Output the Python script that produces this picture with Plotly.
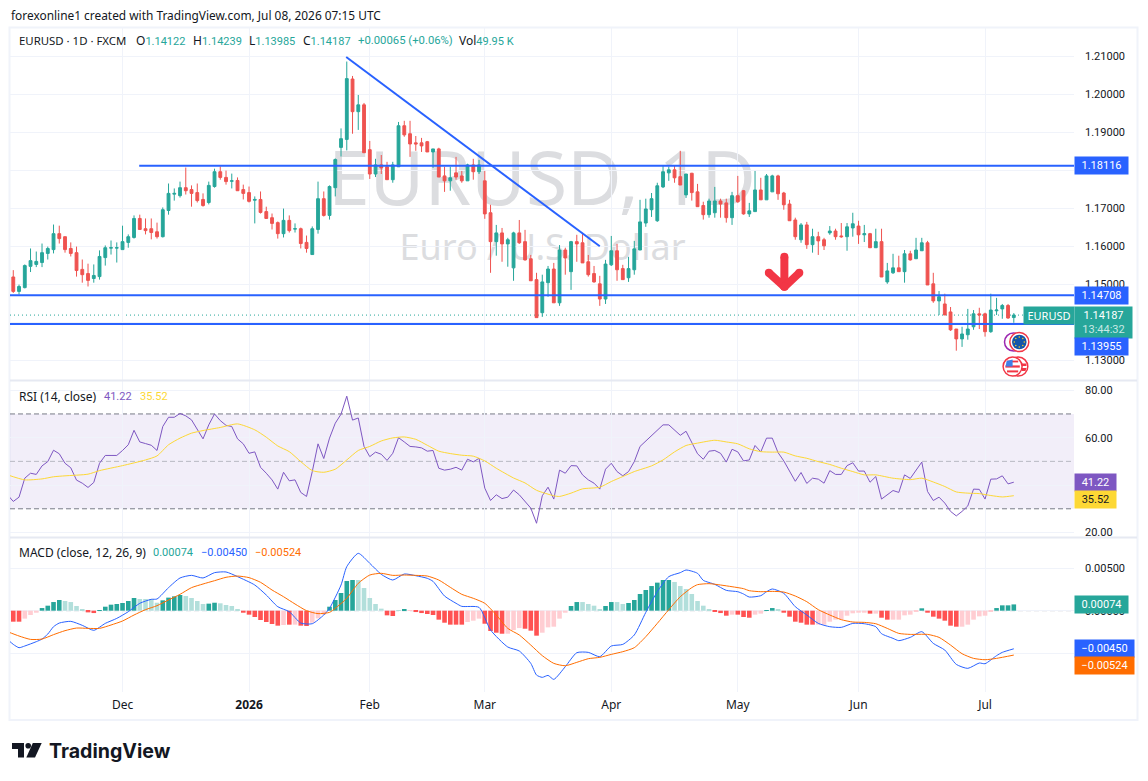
import plotly.graph_objects as go

# Daily EURUSD bars, one entry per trading day, first row is the leftmost bar
opens = [
 1.1519,1.1481,1.1491,1.1547,1.1552,1.1557,1.1581,1.1591,1.1633,1.1625,
 1.1594,1.1583,1.1539,1.1528,1.1515,1.1520,1.1570,1.1595,1.1595,1.1591,
 1.1610,1.1623,1.1673,1.1646,1.1646,1.1638,1.1625,1.1694,1.1737,1.1733,
 1.1754,1.1749,1.1741,1.1723,1.1715,1.1757,1.1796,1.1781,1.1771,1.1773,
 1.1749,1.1741,1.1721,1.1723,1.1691,1.1675,1.1662,1.1633,1.1668,1.1645,
 1.1646,1.1610,1.1578,1.1644,1.1725,1.1681,1.1754,1.1860,1.1881,1.2040,
 1.1954,1.1972,1.1854,1.1790,1.1814,1.1809,1.1775,1.1809,1.1917,1.1896,
 1.1872,1.1872,1.1875,1.1848,1.1856,1.1785,1.1772,1.1793,1.1785,1.1772,
 1.1814,1.1796,1.1772,1.1688,1.1612,1.1635,1.1606,1.1543,1.1635,1.1612,
 1.1567,1.1512,1.1425,1.1504,1.1540,1.1451,1.1590,1.1533,1.1612,1.1609,
 1.1559,1.1528,1.1501,1.1461,1.1551,1.1588,1.1541,1.1517,1.1538,1.1590,
 1.1661,1.1696,1.1667,1.1756,1.1793,1.1801,1.1783,1.1735,1.1792,1.1743,
 1.1707,1.1683,1.1688,1.1719,1.1714,1.1675,1.1733,1.1746,1.1685,1.1691,
 1.1748,1.1722,1.1743,1.1785,1.1740,1.1711,1.1669,1.1617,1.1656,1.1604,
 1.1625,1.1617,1.1635,1.1640,1.1627,1.1625,1.1648,1.1653,1.1630,1.1633,
 1.1596,1.1612,1.1506,1.1530,1.1543,1.1533,1.1580,1.1567,1.1588,1.1609,
 1.1501,1.1456,1.1448,1.1427,1.1382,1.1356,1.1367,1.1388,1.1422,1.1422,
 1.1375,1.1430,1.1435,1.1444,1.14122]
highs = [
 1.1537,1.1499,1.1552,1.1594,1.1586,1.1607,1.1599,1.1657,1.1654,1.1625,
 1.1610,1.1599,1.1565,1.1554,1.1552,1.1589,1.1602,1.1615,1.1610,1.1654,
 1.1631,1.1681,1.1683,1.1673,1.1673,1.1662,1.1702,1.1765,1.1752,1.1770,
 1.1807,1.1760,1.1765,1.1739,1.1770,1.1804,1.1810,1.1799,1.1791,1.1781,
 1.1762,1.1757,1.1731,1.1744,1.1704,1.1686,1.1665,1.1699,1.1681,1.1660,
 1.1649,1.1628,1.1652,1.1770,1.1744,1.1760,1.1831,1.1910,1.2086,1.2048,
 1.1998,1.1977,1.1877,1.1830,1.1840,1.1822,1.1822,1.1927,1.1930,1.1930,
 1.1890,1.1885,1.1877,1.1856,1.1859,1.1809,1.1809,1.1835,1.1798,1.1817,
 1.1830,1.1827,1.1798,1.1709,1.1656,1.1648,1.1622,1.1638,1.1669,1.1643,
 1.1577,1.1530,1.1525,1.1548,1.1556,1.1603,1.1596,1.1614,1.1630,1.1633,
 1.1577,1.1548,1.1522,1.1564,1.1627,1.1606,1.1551,1.1572,1.1614,1.1722,
 1.1725,1.1740,1.1767,1.1811,1.1809,1.1811,1.1851,1.1790,1.1793,1.1764,
 1.1717,1.1725,1.1756,1.1725,1.1725,1.1743,1.1785,1.1748,1.1714,1.1798,
 1.1780,1.1790,1.1788,1.1788,1.1743,1.1722,1.1675,1.1661,1.1664,1.1646,
 1.1638,1.1622,1.1653,1.1646,1.1661,1.1661,1.1688,1.1667,1.1656,1.1635,
 1.1646,1.1646,1.1556,1.1580,1.1575,1.1590,1.1588,1.1622,1.1622,1.1614,
 1.1530,1.1482,1.1475,1.1440,1.1382,1.1388,1.1435,1.1432,1.1438,1.1425,
 1.1475,1.1464,1.1448,1.1448,1.14239]
lows = [
 1.1477,1.1473,1.1489,1.1532,1.1545,1.1545,1.1565,1.1581,1.1607,1.1583,
 1.1573,1.1520,1.1504,1.1494,1.1504,1.1512,1.1549,1.1578,1.1557,1.1591,
 1.1596,1.1620,1.1644,1.1631,1.1618,1.1620,1.1623,1.1683,1.1720,1.1728,
 1.1736,1.1704,1.1715,1.1704,1.1710,1.1754,1.1775,1.1762,1.1752,1.1746,
 1.1723,1.1715,1.1660,1.1686,1.1673,1.1644,1.1620,1.1623,1.1636,1.1636,
 1.1594,1.1583,1.1578,1.1633,1.1678,1.1670,1.1731,1.1836,1.1852,1.1896,
 1.1906,1.1846,1.1777,1.1782,1.1790,1.1775,1.1767,1.1809,1.1888,1.1835,
 1.1851,1.1848,1.1848,1.1806,1.1782,1.1743,1.1746,1.1775,1.1767,1.1772,
 1.1775,1.1790,1.1672,1.1530,1.1575,1.1559,1.1546,1.1509,1.1606,1.1562,
 1.1509,1.1412,1.1414,1.1467,1.1451,1.1443,1.1525,1.1485,1.1559,1.1556,
 1.1520,1.1504,1.1443,1.1448,1.1548,1.1509,1.1512,1.1506,1.1525,1.1590,
 1.1651,1.1677,1.1664,1.1753,1.1772,1.1767,1.1761,1.1727,1.1720,1.1704,
 1.1670,1.1675,1.1675,1.1675,1.1662,1.1656,1.1714,1.1683,1.1677,1.1691,
 1.1722,1.1722,1.1743,1.1722,1.1696,1.1667,1.1617,1.1609,1.1593,1.1583,
 1.1577,1.1590,1.1630,1.1617,1.1622,1.1588,1.1625,1.1606,1.1611,1.1596,
 1.1596,1.1519,1.1501,1.1527,1.1533,1.1504,1.1562,1.1567,1.1588,1.1498,
 1.1451,1.1419,1.1419,1.1377,1.1325,1.1335,1.1354,1.1380,1.1382,1.1362,
 1.1372,1.1419,1.1409,1.1409,1.13985]
closes = [
 1.1481,1.1494,1.1549,1.1562,1.1560,1.1583,1.1594,1.1633,1.1620,1.1591,
 1.1581,1.1536,1.1525,1.1510,1.1523,1.1573,1.1596,1.1596,1.1596,1.1612,
 1.1625,1.1673,1.1644,1.1641,1.1636,1.1625,1.1696,1.1739,1.1739,1.1754,
 1.1746,1.1739,1.1720,1.1707,1.1760,1.1796,1.1781,1.1770,1.1772,1.1746,
 1.1739,1.1718,1.1723,1.1689,1.1673,1.1660,1.1633,1.1668,1.1641,1.1646,
 1.1607,1.1594,1.1646,1.1725,1.1681,1.1757,1.1828,1.1883,1.2041,1.1954,
 1.1972,1.1846,1.1790,1.1814,1.1806,1.1775,1.1814,1.1917,1.1893,1.1869,
 1.1869,1.1864,1.1848,1.1856,1.1782,1.1772,1.1780,1.1782,1.1772,1.1814,
 1.1796,1.1814,1.1685,1.1612,1.1635,1.1606,1.1617,1.1635,1.1609,1.1564,
 1.1509,1.1412,1.1506,1.1540,1.1451,1.1590,1.1569,1.1612,1.1606,1.1556,
 1.1525,1.1506,1.1461,1.1553,1.1588,1.1538,1.1512,1.1541,1.1593,1.1664,
 1.1698,1.1725,1.1759,1.1796,1.1801,1.1780,1.1761,1.1790,1.1741,1.1704,
 1.1683,1.1719,1.1719,1.1711,1.1675,1.1733,1.1717,1.1685,1.1693,1.1748,
 1.1722,1.1785,1.1785,1.1738,1.1709,1.1667,1.1625,1.1656,1.1604,1.1625,
 1.1614,1.1601,1.1640,1.1625,1.1625,1.1651,1.1659,1.1630,1.1633,1.1596,
 1.1612,1.1519,1.1535,1.1543,1.1533,1.1580,1.1564,1.1590,1.1609,1.1498,
 1.1456,1.1467,1.1419,1.1380,1.1356,1.1369,1.1382,1.1422,1.1419,1.1375,
 1.1432,1.1432,1.1444,1.1411,1.14187]

rsi_values = [
 35.9,33.1,34.9,42.9,45.0,44.5,48.1,49.9,54.7,53.2,49.2,
 47.3,42.1,40.8,39.0,41.1,49.2,52.5,52.5,52.5,54.6,
 57.0,63.1,58.2,57.5,56.8,54.6,64.7,68.6,68.6,70.2,
 69.2,67.5,63.3,59.5,65.4,70.0,67.2,65.2,64.7,59.5,
 57.4,53.4,54.0,47.5,45.0,42.2,38.3,45.4,41.8,42.2,
 36.9,35.2,45.7,57.4,51.2,59.8,66.1,69.9,77.5,67.4,
 68.3,56.3,52.0,53.9,53.0,50.4,53.4,60.0,58.2,56.3,
 56.1,55.7,54.3,54.6,47.1,46.3,46.7,47.5,46.3,50.9,
 49.8,51.3,38.7,33.5,35.9,34.3,34.9,37.9,35.9,33.1,
 30.3,23.9,35.5,39.1,34.1,46.3,45.0,48.2,48.1,44.3,
 42.2,40.8,38.3,46.7,49.2,45.7,43.9,45.7,49.9,56.3,
 58.6,60.8,63.3,65.4,65.4,63.3,61.0,62.7,57.7,53.2,
 50.9,54.3,54.6,53.4,49.7,55.1,54.0,50.2,50.6,56.7,
 54.0,59.8,59.8,53.7,50.2,45.7,41.6,45.3,40.7,42.9,
 42.5,40.8,46.1,44.5,44.5,48.2,49.4,45.9,45.9,41.2,
 43.6,34.1,35.9,37.7,36.9,44.3,42.8,46.4,49.7,37.3,
 33.5,34.9,32.4,28.9,27.0,28.9,31.2,38.3,38.2,34.1,
 42.5,42.6,43.9,40.5,41.22]

rsi_ma_bars = [
 -1,2,5,7,9,13,15,19,23,25,27,29,31,33,36,39,42,44,46,48,50,52,54,56,58,60,
 62,64,66,68,70,72,74,76,78,80,82,84,87,89,91,94,95,97,99,102,104,106,108,
 111,113,115,117,119,122,124,126,128,130,132,134,136,138,140,142,144,146,
 148,150,153,156,158,160,162,164,166,168,170,172,174]
rsi_ma_values = [
 44.3,42.2,42.6,43.5,43.9,44.6,46.1,48.2,50.6,52.3,57.0,59.8,61.9,63.0,64.3,65.8,
 63.3,60.2,56.5,54.1,49.9,46.1,45.4,46.7,50.6,54.6,56.3,58.6,59.9,60.3,59.3,56.8,
 54.3,53.3,52.6,52.2,50.2,47.1,43.0,40.9,37.8,35.5,35.2,36.6,38.4,39.1,41.5,43.6,
 45.7,48.1,50.6,54.0,56.7,57.7,58.9,58.2,57.4,55.3,54.1,53.9,53.9,52.3,51.3,49.9,
 48.7,47.1,45.7,44.3,44.3,42.9,42.3,42.9,41.3,39.4,37.1,36.6,36.4,35.6,35.0,35.52]

macd_hist = [
 -.00130,-.00130,-.00094,-.00051,-.00024,.00031,.00059,.00102,.00126,.00114,
 .00102,.00055,.00020,-.00020,-.00028,.00008,.00047,.00071,.00079,.00091,
 .00114,.00150,.00138,.00138,.00138,.00094,.00122,.00154,.00169,.00185,
 .00173,.00150,.00114,.00079,.00083,.00094,.00087,.00067,.00055,.00020,
 -.00024,-.00047,-.00075,-.00110,-.00134,-.00157,-.00177,-.00169,-.00165,-.00165,
 -.00177,-.00181,-.00142,-.00091,-.00047,.00047,.00126,.00209,.00350,.00362,
 .00362,.00268,.00150,.00079,.00024,-.00055,-.00063,.00002,.00016,-.00002,
 -.00016,-.00028,-.00039,-.00051,-.00106,-.00142,-.00165,-.00165,-.00165,-.00134,
 -.00118,-.00094,-.00154,-.00240,-.00260,-.00272,-.00272,-.00228,-.00205,-.00213,
 -.00236,-.00295,-.00260,-.00197,-.00189,-.00094,-.00024,.00055,.00102,.00102,
 .00079,.00059,.00020,.00055,.00102,.00102,.00079,.00091,.00126,.00197,
 .00244,.00291,.00331,.00362,.00362,.00339,.00291,.00256,.00197,.00114,
 .00059,.00020,-.00008,-.00028,-.00059,-.00047,-.00047,-.00075,-.00083,-.00047,
 -.00035,.00008,.00031,.00016,-.00024,-.00071,-.00130,-.00142,-.00165,-.00165,
 -.00165,-.00165,-.00130,-.00106,-.00102,-.00059,-.00031,-.00024,-.00024,-.00035,
 -.00035,-.00083,-.00106,-.00106,-.00106,-.00055,-.00047,-.00012,.00028,-.00024,
 -.00071,-.00094,-.00118,-.00177,-.00189,-.00189,-.00165,-.00106,-.00067,-.00059,
 -.00008,.00031,.00063,.00063,.00074]

# 1 where the histogram column is losing momentum and takes the pale shade
macd_hist_fading = [
 0,0,1,1,1,0,0,0,0,1, 1,1,1,0,0,0,0,0,0,0, 0,0,1,1,1,1,0,0,0,0,
 1,1,1,1,0,0,1,1,1,1, 0,0,0,0,0,0,0,1,0,1, 0,0,1,1,1,0,0,0,0,0,
 1,1,1,1,1,0,0,1,0,1, 0,0,0,0,0,0,0,0,0,1, 1,1,0,0,0,0,1,1,1,0,
 0,0,1,1,1,1,1,0,0,1, 1,1,1,0,0,1,1,0,0,0, 0,0,0,0,0,1,1,1,1,1,
 1,1,0,0,0,1,0,0,0,1, 1,0,0,1,0,0,0,0,0,0, 1,1,1,1,1,1,1,1,1,0,
 1,0,0,1,1,1,1,1,0,0, 0,0,0,0,0,1,1,1,1,1, 1,0,0,0,0]

macd_bars = [
 -1,0,1,2,4,5,6,7,8,10,12,14,16,18,20,22,24,25,27,29,31,33,35,37,39,42,44,46,48,
 50,52,54,55,57,58,60,62,64,66,68,70,72,73,75,77,78,81,83,86,88,90,91,92,93,94,
 96,98,100,102,104,106,108,110,112,114,116,117,119,120,122,124,126,127,128,130,
 131,132,134,136,138,140,142,144,146,148,150,151,153,154,156,158,160,162,164,
 166,168,169,171,172,174]
macd_line = [
 -.00339,-.00398,-.00437,-.00417,-.00366,-.00335,-.00276,-.00189,-.00146,-.00126,
 -.00173,-.00232,-.00150,-.00091,-.00012,.00087,.00134,.00138,.00272,.00386,
 .00417,.00386,.00449,.00457,.00402,.00303,.00185,.00047,-.00012,-.00146,
 -.00154,-.00051,.00028,.00303,.00520,.00677,.00559,.00429,.00362,.00433,
 .00413,.00382,.00346,.00173,.00087,.00051,.00039,-.00228,-.00429,-.00476,
 -.00622,-.00760,-.00787,-.00764,-.00811,-.00661,-.00496,-.00492,-.00543,-.00417,
 -.00398,-.00287,-.00020,.00224,.00402,.00449,.00480,.00441,.00358,.00311,
 .00240,.00224,.00197,.00161,.00177,.00224,.00256,.00205,.00047,-.00051,
 -.00150,-.00189,-.00197,-.00150,-.00154,-.00189,-.00272,-.00327,-.00354,-.00315,
 -.00248,-.00386,-.00465,-.00634,-.00681,-.00618,-.00626,-.00531,-.00492,-.00450]

signal_bars = [
 -1,1,3,5,7,9,11,13,15,17,19,21,23,25,27,29,31,33,35,37,39,41,43,45,47,49,51,53,
 55,56,58,60,62,64,66,68,70,72,74,76,78,80,82,84,86,88,90,92,94,96,98,100,102,
 104,106,108,110,112,114,116,118,119,121,123,125,127,128,130,132,134,136,138,
 140,142,144,146,148,150,152,154,156,159,161,163,165,167,169,171,174]
signal_line = [
 -.00248,-.00299,-.00339,-.00335,-.00283,-.00236,-.00205,-.00209,-.00209,-.00169,
 -.00122,-.00051,.00012,.00059,.00126,.00193,.00272,.00315,.00354,.00394,
 .00409,.00390,.00335,.00244,.00165,.00079,.00000,-.00035,-.00020,.00028,
 .00146,.00323,.00421,.00441,.00417,.00421,.00417,.00409,.00362,.00276,
 .00193,.00146,.00087,-.00051,-.00209,-.00287,-.00406,-.00531,-.00622,-.00650,
 -.00610,-.00567,-.00551,-.00516,-.00484,-.00437,-.00307,-.00150,.00012,.00165,
 .00272,.00307,.00319,.00303,.00283,.00260,.00236,.00224,.00228,.00220,
 .00173,.00106,.00012,-.00051,-.00106,-.00134,-.00138,-.00154,-.00209,-.00268,
 -.00280,-.00280,-.00315,-.00406,-.00508,-.00563,-.00579,-.00563,-.00524]

month_bars = [19, 41, 62, 82, 104, 126, 147, 169]
month_labels = ["Dec", "<b>2026</b>", "Feb", "Mar", "Apr", "May", "Jun", "Jul"]

level_top = 1.18116
level_upper = 1.14708
level_lower = 1.13955
trend_bars = [57.9, 102.0]
trend_prices = [1.2098, 1.1600]
arrow_bars = [134.1, 134.1, 131.4, None, 134.1, 136.7]
arrow_prices = [1.1572, 1.1493, 1.1530, None, 1.1493, 1.1530]

# Grid rows; rows whose label sits under a price badge carry an empty label
price_ticks = [1.13, 1.14, 1.15, 1.16, 1.17, 1.18, 1.19, 1.20, 1.21]
price_tick_text = ["1.13000", "", "1.15000", "1.16000", "1.17000", "", "1.19000", "1.20000", "1.21000"]
rsi_ticks = [20, 40, 60, 80]
rsi_tick_text = ["20.00", "", "60.00", "80.00"]
macd_ticks = [-0.005, 0, 0.005]
macd_tick_text = ["", "0.00000", "0.00500"]

W, H = 1148, 781
FONT = "Noto Sans"
NUM_FONT = "Roboto"
INK = "#131722"
TEAL = "#26a69a"
RED = "#ef5350"
BLUE = "#2962ff"
PURPLE = "#7e57c2"
YELLOW = "#fdd835"
ORANGE = "#ff6d00"
GRID = "#f0f3fa"
FRAME = "#e6e9f2"


def px(x):
    return x / W


def py(y):
    return 1 - y / H


bars = list(range(len(closes)))
x_range = [-0.57, 184.47]

fig = go.Figure()

fig.add_trace(go.Candlestick(
    x=bars, open=opens, high=highs, low=lows, close=closes,
    xaxis="x", yaxis="y", whiskerwidth=0,
    increasing=dict(line=dict(color=TEAL, width=1), fillcolor=TEAL),
    decreasing=dict(line=dict(color=RED, width=1), fillcolor=RED),
    showlegend=False,
))

for start, level in [(21.9, level_top), (x_range[0], level_upper), (x_range[0], level_lower)]:
    fig.add_trace(go.Scatter(x=[start, x_range[1]], y=[level, level], mode="lines",
                             xaxis="x", yaxis="y", line=dict(color=BLUE, width=2),
                             showlegend=False))
fig.add_trace(go.Scatter(x=trend_bars, y=trend_prices, mode="lines", xaxis="x", yaxis="y",
                         line=dict(color=BLUE, width=2), showlegend=False))
fig.add_trace(go.Scatter(x=arrow_bars, y=arrow_prices, mode="lines+markers", xaxis="x", yaxis="y",
                         line=dict(color="#f23645", width=8),
                         marker=dict(color="#f23645", size=8),
                         showlegend=False))

fig.add_trace(go.Scatter(x=list(range(-1, len(closes))), y=rsi_values, mode="lines",
                         xaxis="x2", yaxis="y2", line=dict(color=PURPLE, width=1),
                         showlegend=False))
fig.add_trace(go.Scatter(x=rsi_ma_bars, y=rsi_ma_values, mode="lines",
                         xaxis="x2", yaxis="y2",
                         line=dict(color=YELLOW, width=1, shape="spline", smoothing=0.6),
                         showlegend=False))

hist_colors = []
for value, fading in zip(macd_hist, macd_hist_fading):
    if value >= 0:
        hist_colors.append("#b2dfdb" if fading else TEAL)
    else:
        hist_colors.append("#ffcdd2" if fading else "#ff5252")
fig.add_trace(go.Bar(x=bars, y=macd_hist, width=0.8, xaxis="x3", yaxis="y3",
                     marker=dict(color=hist_colors, line=dict(width=0)),
                     showlegend=False))
fig.add_trace(go.Scatter(x=macd_bars, y=macd_line, mode="lines", xaxis="x3", yaxis="y3",
                         line=dict(color=BLUE, width=1, shape="spline", smoothing=0.6),
                         showlegend=False))
fig.add_trace(go.Scatter(x=signal_bars, y=signal_line, mode="lines", xaxis="x3", yaxis="y3",
                         line=dict(color=ORANGE, width=1, shape="spline", smoothing=0.6),
                         showlegend=False))

common_x = dict(range=x_range, tickvals=month_bars, showgrid=True, gridcolor=GRID, gridwidth=1,
                zeroline=False, showline=False, ticks="", fixedrange=True, automargin=False)
common_y = dict(side="right", showgrid=True, gridcolor=GRID, gridwidth=1, zeroline=False,
                showline=False, ticks="", ticklabelstandoff=10, automargin=False,
                tickfont=dict(family=NUM_FONT, size=11, color=INK))

fig.update_layout(
    width=W, height=H, autosize=False,
    margin=dict(l=0, r=0, t=0, b=0),
    paper_bgcolor="white", plot_bgcolor="white",
    showlegend=False, hovermode=False, bargap=0.2,
    font=dict(family=FONT, size=12, color=INK),
    xaxis=dict(domain=[px(10), px(1074)], anchor="y", rangeslider=dict(visible=False),
               showticklabels=False, **common_x),
    xaxis2=dict(domain=[px(10), px(1074)], anchor="y2", showticklabels=False, **common_x),
    xaxis3=dict(domain=[px(10), px(1074)], anchor="y3", showticklabels=True,
                ticktext=month_labels, ticklabelstandoff=4,
                tickfont=dict(family=FONT, size=12, color=INK), **common_x),
    yaxis=dict(domain=[py(380), py(28)], range=[1.12479, 1.21742], anchor="x",
               tickvals=price_ticks, ticktext=price_tick_text, **common_y),
    yaxis2=dict(domain=[py(537), py(381)], range=[18.1, 83.9], anchor="x2",
                tickvals=rsi_ticks, ticktext=rsi_tick_text, **common_y),
    yaxis3=dict(domain=[py(692), py(538)], range=[-0.0096, 0.00858], anchor="x3",
                tickvals=macd_ticks, ticktext=macd_tick_text, **common_y),
)

shapes = []
# frame and pane separators
shapes.append(dict(type="rect", xref="paper", yref="paper", x0=px(9.5), x1=px(1137.5),
                   y0=py(720), y1=py(27.5), line=dict(color=GRID, width=2), layer="below"))
for sep in (380.5, 537.5):
    shapes.append(dict(type="line", xref="paper", yref="paper", x0=px(10), x1=px(1137),
                       y0=py(sep), y1=py(sep), line=dict(color=FRAME, width=2), layer="above"))

# symbol and description watermark, kept behind the candles
shapes.append(dict(type="rect", xref="paper", yref="paper", x0=px(300), x1=px(784),
                   y0=py(225), y1=py(137), line=dict(width=0), fillcolor="rgba(0,0,0,0)", layer="below",
                   label=dict(text="EURUSD, 1D", textposition="middle center",
                              font=dict(family=FONT, size=75, color="#dcdde0"))))
shapes.append(dict(type="rect", xref="paper", yref="paper", x0=px(340), x1=px(745),
                   y0=py(268), y1=py(228), line=dict(width=0), fillcolor="rgba(0,0,0,0)", layer="below",
                   label=dict(text="Euro / U.S. Dollar", textposition="middle center",
                              font=dict(family=FONT, size=36, color="#dcdde0"))))

# last price dotted level
shapes.append(dict(type="line", xref="paper", yref="y", x0=px(10), x1=px(1074),
                   y0=closes[-1], y1=closes[-1], layer="below",
                   line=dict(color=TEAL, width=1, dash="1px,3px")))

# RSI band with its three guide levels
shapes.append(dict(type="rect", xref="paper", yref="y2", x0=px(10), x1=px(1074), y0=30, y1=70,
                   fillcolor="rgba(126,87,194,0.1)", line=dict(width=0), layer="below"))
for level, color in [(70, "#787b86"), (50, "#b8b9c2"), (30, "#787b86")]:
    shapes.append(dict(type="line", xref="paper", yref="y2", x0=px(10), x1=px(1074),
                       y0=level, y1=level, layer="below",
                       line=dict(color=color, width=1, dash="5px,3px")))

# MACD zero level
shapes.append(dict(type="line", xref="paper", yref="y3", x0=px(10), x1=px(1074), y0=0, y1=0,
                   layer="below", line=dict(color="#b2b5be", width=1, dash="5px,3px")))


def circle(cx, cy, r, fill, line=None, width=0):
    shapes.append(dict(type="circle", xref="paper", yref="paper",
                       x0=px(cx - r), x1=px(cx + r), y0=py(cy + r), y1=py(cy - r),
                       fillcolor=fill, line=dict(color=line or fill, width=width), layer="above"))


def polygon(points, fill):
    d = "M " + " L ".join(f"{px(x):.5f} {py(y):.5f}" for x, y in points) + " Z"
    shapes.append(dict(type="path", xref="paper", yref="paper", path=d, fillcolor=fill,
                       line=dict(width=0), layer="above"))


# calendar event markers
circle(1013.5, 342, 9, "white", "#9c27b0", 1.5)
circle(1019.3, 342, 9.5, "white", "#f23645", 1.5)
circle(1019.3, 342, 7.3, "#1556a8")
for dx, dy in [(0, -5), (3.5, -3.5), (5, 0), (3.5, 3.5), (0, 5), (-3.5, 3.5), (-5, 0), (-3.5, -3.5)]:
    circle(1019.3 + dx, 342 + dy, 0.8, "#f9c823")
circle(1018.3, 366.6, 9.5, "white", "#f23645", 1.5)
polygon([(1022, 363.5), (1026, 363.5), (1026.5, 366), (1022, 366)], "#f23645")
polygon([(1022, 368), (1026.5, 368), (1025.5, 371), (1022, 371)], "#f23645")
circle(1012.6, 366.6, 9.5, "white", "#f23645", 1.5)
for top, bottom, half in [(360.6, 362.4, 5.6), (365.4, 367.6, 7.2), (370.4, 372.4, 5.6)]:
    polygon([(1012.6 - half, top), (1012.6 + half, top), (1012.6 + half, bottom), (1012.6 - half, bottom)], "#f23645")
polygon([(1006.6, 361), (1012.6, 359.5), (1012.6, 366.4), (1005.6, 366.4)], "#3f7fe8")

# brand mark at the foot of the page
polygon([(12, 743), (24, 743), (24, 757.5), (18, 757.5), (18, 749), (12, 749)], "#131722")
circle(28.2, 745.8, 2.8, "#131722")
polygon([(32.8, 743), (41.7, 743), (35, 757.5), (26.3, 757.5)], "#131722")

annotations = []


def text(x, y, content, size=12, color=INK, family=FONT):
    annotations.append(dict(xref="paper", yref="paper", x=px(x), y=py(y), text=content,
                            showarrow=False, xanchor="left", yanchor="middle", xshift=0,
                            font=dict(family=family, size=size, color=color), align="left",
                            borderpad=0))


def badge(x0, x1, y0, y1, content, fill, color="white", size=11, family=NUM_FONT):
    annotations.append(dict(xref="paper", yref="paper", x=px((x0 + x1) / 2), y=py((y0 + y1) / 2),
                            text=content, showarrow=False, xanchor="center", yanchor="middle",
                            width=x1 - x0, height=y1 - y0, bgcolor=fill, borderpad=0, align="center",
                            valign="middle", font=dict(family=family, size=size, color=color)))


def num(value, color):
    return f"<span style='font-family:{NUM_FONT};font-size:11px;color:{color}'>{value}</span>"


text(10, 15, "forexonline1 created with TradingView.com, Jul 08, 2026 07:15 UTC", size=11.9)

text(18, 41, "EURUSD \u00b7 1D \u00b7 FXCM", size=11.4)
for x, head, body in [(135, "O", "1.14122"), (192, "H", "1.14239"), (248, "L", "1.13985"), (302, "C", "1.14187")]:
    text(x, 41, head + num(body, TEAL), size=12)
text(357, 41, "+0.00065 (+0.06%)", size=11.3, color=TEAL, family=NUM_FONT)
text(458, 41, "Vol" + num("49.95 K", TEAL), size=12)

text(18, 396, "RSI (14, close)", size=12)
text(103, 396, "41.22", size=11, color=PURPLE, family=NUM_FONT)
text(139, 396, "35.52", size=11, color=YELLOW, family=NUM_FONT)

text(18, 552, "MACD (close, 12, 26, 9)", size=12)
text(152, 552, "0.00074", size=11, color=TEAL, family=NUM_FONT)
text(200, 552, "\u22120.00450", size=11, color=BLUE, family=NUM_FONT)
text(254, 552, "\u22120.00524", size=11, color=ORANGE, family=NUM_FONT)

badge(1075, 1128, 157, 174, "1.18116", BLUE)
badge(1075, 1128, 287, 304, "1.14708", BLUE)
badge(1024, 1074, 307, 323.5, "EURUSD", TEAL, family=FONT)
badge(1075, 1132, 307, 338, "1.14187<br><span style='color:#c8e8e4'>13:44:32</span>", TEAL)
badge(1075, 1128, 338, 355, "1.13955", BLUE)
badge(1075, 1116, 474, 491, "41.22", PURPLE)
badge(1075, 1116, 491, 508, "35.52", YELLOW, color=INK)
badge(1075, 1128, 596, 613, "0.00074", TEAL)
badge(1075, 1134, 640, 657, "\u22120.00450", BLUE)
badge(1075, 1134, 657, 674, "\u22120.00524", ORANGE)

text(48, 751, "<b>TradingView</b>", size=19.6, color="#131722", family="Inter")

fig.update_layout(shapes=shapes, annotations=annotations)
fig.write_html("out.html", config=dict(displayModeBar=False))
